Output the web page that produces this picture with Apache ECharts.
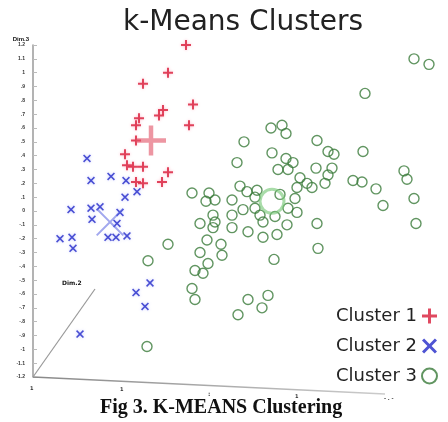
<!DOCTYPE html>
<html>
<head>
<meta charset="utf-8">
<script src="https://cdn.jsdelivr.net/npm/echarts@6/dist/echarts.min.js"></script>
<style>
html,body{margin:0;padding:0;background:#fff;}
#kmeans{width:448px;height:422px;}
</style>
</head>
<body>
<div id="kmeans"></div>
<script>
// points, [dim1, dim3]
var cluster1 = [[15.3,24.0],[13.5,22.0],[11.0,21.2],[16.0,19.7],[13.0,19.3],[12.6,18.9],[10.6,18.7],[10.3,18.2],[15.6,18.2],[10.3,17.1],[9.2,16.1],[9.4,15.3],[10.0,15.2],[11.0,15.2],[13.5,14.8],[12.9,14.1],[10.3,14.1],[11.0,14.0]];
var cluster2 = [[5.4,15.8],[5.8,14.2],[7.8,14.5],[9.3,14.2],[10.4,13.4],[9.2,13.0],[3.8,12.1],[5.8,12.2],[6.7,12.3],[5.9,11.4],[8.7,11.9],[8.4,11.1],[7.5,10.1],[8.3,10.1],[9.4,10.2],[2.7,10.0],[3.9,10.1],[4.0,9.3],[11.7,6.8],[10.3,6.1],[11.2,5.1],[4.7,3.1]];
var cluster3 = [[38.1,23.0],[39.6,22.6],[33.2,20.5],[23.8,18.0],[24.9,18.2],[25.3,17.6],[21.1,17.0],[28.4,17.1],[29.5,16.3],[30.1,16.1],[33.0,16.3],[23.9,16.2],[25.3,15.8],[26.0,15.5],[20.4,15.5],[24.5,15.0],[25.5,15.0],[28.3,15.1],[29.9,15.1],[29.5,14.6],[29.2,14.0],[26.7,14.4],[27.4,14.0],[27.9,13.7],[26.4,13.7],[32.0,14.2],[32.9,14.1],[34.3,13.6],[37.1,14.9],[37.4,14.3],[35.0,12.4],[38.1,12.9],[38.3,11.1],[15.9,13.3],[17.6,13.3],[17.3,12.7],[18.2,12.8],[20.7,13.8],[21.4,13.4],[22.4,13.5],[22.2,13.0],[19.9,12.8],[24.7,13.2],[26.2,12.9],[25.5,12.2],[26.4,11.9],[21.0,12.1],[22.2,12.2],[18.0,11.7],[19.9,11.7],[22.7,11.7],[16.7,11.1],[18.2,11.2],[19.9,10.8],[21.5,10.5],[23.0,11.2],[24.2,11.6],[25.4,11.0],[24.4,10.3],[23.0,10.1],[28.4,11.1],[18.0,10.8],[13.5,9.6],[17.4,9.9],[16.7,9.0],[18.8,9.6],[18.9,8.8],[28.5,9.3],[24.1,8.5],[17.5,8.2],[16.2,7.7],[17.0,7.5],[15.9,6.4],[16.2,5.6],[21.5,5.6],[23.5,5.9],[22.9,5.0],[20.5,4.5],[11.5,8.4],[11.4,2.2]];
var centroid1 = [[11.8,17.1]];
var centroid2 = [[7.7,11.2]];
var centroid3 = [[23.9,12.7]];
var clusterNames = ['Cluster 1','Cluster 2','Cluster 3'];
var yTickLabels = ['-1.2','-1.1','-1','-.9','-.8','-.7','-.6','-.5','-.4','-.3','-.2','-.1','0','.1','.2','.3','.4','.5','.6','.7','.8','.9','1','1.1','1.2'];

var plusPath = 'path://M4,0H6V4H10V6H6V10H4V6H0V4H4Z';
var bigPlusPath = 'path://M8.5,0H11.5V8.5H20V11.5H11.5V20H8.5V11.5H0V8.5H8.5Z';
var crossPath = 'path://M1.4,0L5,3.6L8.6,0L10,1.4L6.4,5L10,8.6L8.6,10L5,6.4L1.4,10L0,8.6L3.6,5L0,1.4Z';
var bigCrossPath = 'path://M1,0L10,9L19,0L20,1L11,10L20,19L19,20L10,11L1,20L0,19L9,10L0,1Z';

var myChart = echarts.init(document.getElementById('kmeans'));
var option = {
    animation: false,
    backgroundColor: '#fff',
    title: [{
        text: 'k-Means Clusters',
        left: 123,
        top: 9,
        padding: 0,
        textStyle: {fontFamily: 'DejaVu Sans', fontSize: 28, fontWeight: 'normal', color: '#222'}
    }, {
        text: 'Fig 3. K-MEANS Clustering',
        left: 100,
        top: 398,
        padding: 0,
        textStyle: {fontFamily: 'Liberation Serif', fontSize: 20, fontWeight: 'bold', color: '#111', letterSpacing: -0.6}
    }],
    legend: {
        data: clusterNames,
        orient: 'vertical',
        right: 5,
        top: 302,
        align: 'right',
        itemWidth: 15,
        itemHeight: 15,
        itemGap: 12,
        textStyle: {fontFamily: 'DejaVu Sans', fontSize: 18, color: '#222', padding: [0, 0, 0, 0]}
    },
    grid: {left: 33, top: 45, width: 400, height: 332, containLabel: false},
    xAxis: {
        type: 'value', min: 0, max: 40,
        axisLine: {show: false}, axisTick: {show: false},
        axisLabel: {show: false}, splitLine: {show: false}
    },
    yAxis: {
        type: 'value', min: 0, max: 24, interval: 1,
        name: 'Dim.3',
        nameLocation: 'end',
        nameGap: 3,
        nameTextStyle: {fontSize: 6, fontWeight: 'bold', color: '#111', align: 'right', padding: [0, 4, 0, 0]},
        axisLine: {show: true, lineStyle: {color: '#9a9a9a', width: 1.5}},
        axisTick: {show: true, inside: true, length: 4, lineStyle: {color: '#bbb'}},
        axisLabel: {
            fontSize: 5, fontWeight: 'bold', color: '#333', margin: 8,
            formatter: function(v){ return yTickLabels[Math.round(v)]; }
        },
        splitLine: {show: false}
    },
    series: [{
        name: 'Cluster 1',
        type: 'scatter',
        symbol: plusPath,
        symbolSize: 10,
        itemStyle: {color: '#d81c38', shadowColor: 'rgba(255,120,150,0.6)', shadowBlur: 3},
        data: cluster1,
        z: 4
    }, {
        name: 'Cluster 2',
        type: 'scatter',
        symbol: crossPath,
        symbolSize: 8,
        itemStyle: {color: '#2228c8', shadowColor: 'rgba(120,130,255,0.5)', shadowBlur: 3},
        data: cluster2,
        z: 4
    }, {
        name: 'Cluster 3',
        type: 'scatter',
        symbol: 'circle',
        symbolSize: 10,
        itemStyle: {color: 'rgba(0,0,0,0)', borderColor: '#3a7a3a', borderWidth: 1.4},
        data: cluster3,
        z: 3
    }, {
        name: 'centroid 1',
        type: 'scatter',
        symbol: bigPlusPath,
        symbolSize: 30,
        itemStyle: {color: 'rgba(225,80,100,0.75)'},
        data: centroid1,
        z: 5
    }, {
        name: 'centroid 2',
        type: 'scatter',
        symbol: bigCrossPath,
        symbolSize: 28,
        itemStyle: {color: 'rgba(90,100,225,0.7)'},
        data: centroid2,
        z: 5
    }, {
        name: 'centroid 3',
        type: 'scatter',
        symbol: 'circle',
        symbolSize: 24,
        itemStyle: {color: 'rgba(0,0,0,0)', borderColor: 'rgba(120,200,120,0.8)', borderWidth: 3},
        data: centroid3,
        z: 5
    }],
    graphic: [
        // sloping bottom axis (dim 1)
        {type: 'line', shape: {x1: 33, y1: 377, x2: 385, y2: 394},
         style: {stroke: new echarts.graphic.LinearGradient(0, 0, 1, 0, [{offset: 0, color: '#888'}, {offset: 1, color: '#ccc'}]), lineWidth: 1.5}, z: 2},
        // oblique axis (dim 2)
        {type: 'line', shape: {x1: 33, y1: 377, x2: 95, y2: 289},
         style: {stroke: '#999', lineWidth: 1.2}, z: 2},
        {type: 'text', left: 62, top: 280, style: {text: 'Dim.2', font: 'bold 6px DejaVu Sans', fill: '#111'}},
        {type: 'text', left: 30, top: 386, style: {text: '1', font: 'bold 5px DejaVu Sans', fill: '#333'}},
        {type: 'text', left: 120, top: 387, style: {text: '1', font: 'bold 5px DejaVu Sans', fill: '#333'}},
        {type: 'text', left: 208, top: 391, style: {text: ':', font: 'bold 6px DejaVu Sans', fill: '#333'}},
        {type: 'text', left: 295, top: 394, style: {text: '1', font: 'bold 5px DejaVu Sans', fill: '#333'}},
        {type: 'text', left: 384, top: 396, style: {text: '- . -', font: 'bold 5px DejaVu Sans', fill: '#333'}}
    ]
};
myChart.setOption(option);
</script>
</body>
</html>
